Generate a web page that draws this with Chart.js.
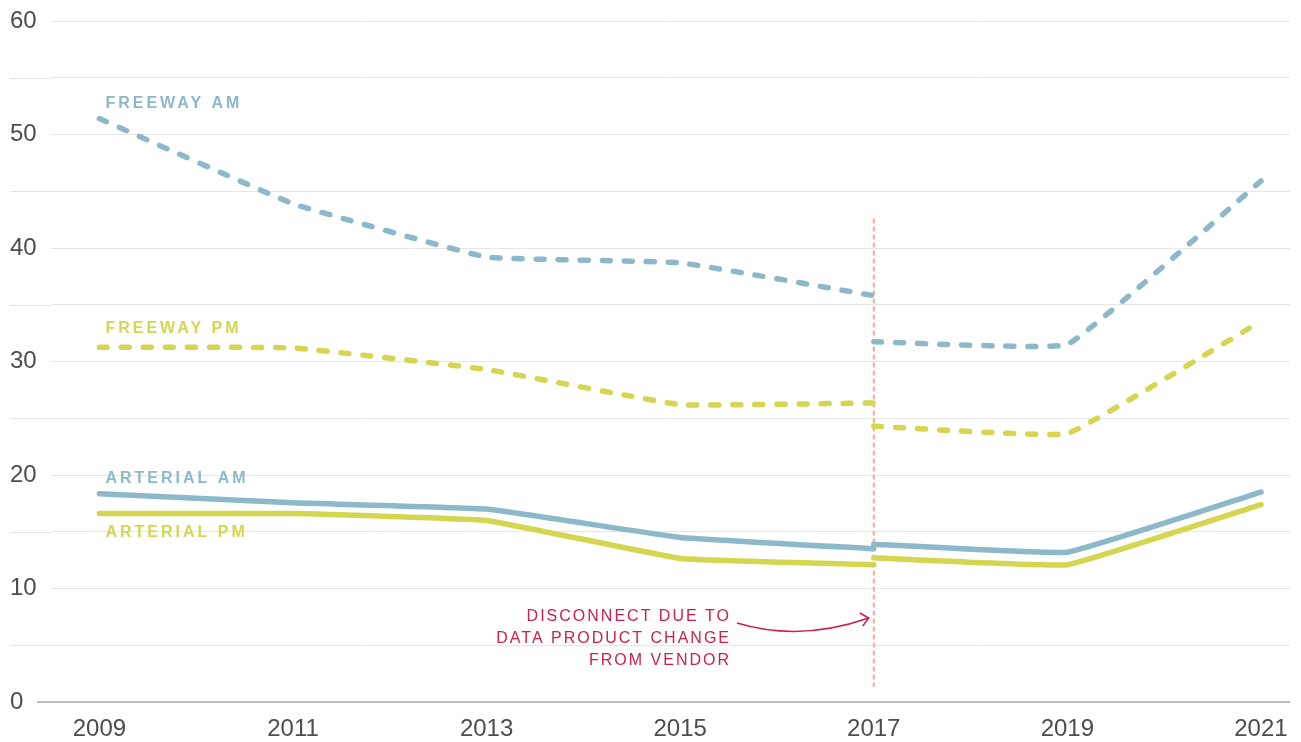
<!DOCTYPE html>
<html lang="en">
<head>
    <meta charset="UTF-8">
    <title>Freeway / arterial</title>
    <script src="https://cdn.jsdelivr.net/npm/chart.js"></script>
    <style>
        html, body { margin: 0; padding: 0; background: #fff; }
        #wrap { width: 1301px; height: 742px; position: relative; }
    </style>
</head>
<body>
    <div id="wrap"><canvas id="grafico"></canvas></div>

<script>
    // dados
    const anos = [2009, 2011, 2013, 2015, 2017];
    const anosDepois = [2017, 2019, 2021];
    const ticksAnos = [2009, 2011, 2013, 2015, 2017, 2019, 2021];

    const freewayAm = [51.4, 43.9, 39.2, 38.7, 35.8];
    const freewayAmDepois = [31.75, 31.5, 45.9];
    const freewayPm = [31.25, 31.2, 29.3, 26.2, 26.35];
    const freewayPmDepois = [24.3, 23.65, 33.55];
    const arterialAm = [18.35, 17.55, 17.0, 14.5, 13.5];
    const arterialAmDepois = [13.9, 13.2, 18.5];
    const arterialPm = [16.6, 16.6, 16.0, 12.65, 12.1];
    const arterialPmDepois = [12.7, 12.1, 17.4];

    const azul = '#8cb8ca';
    const amarelo = '#d5d64f';
    const vermelho = '#cc1f4f';

    function pontos(xs, ys) {
        return xs.map((x, i) => ({ x: x, y: ys[i] }));
    }

    function serie(xs, ys, cor, tracejado) {
        return {
            data: pontos(xs, ys),
            borderColor: cor,
            borderWidth: 5.5,
            borderDash: tracejado ? [8, 14] : [],
            borderCapStyle: 'round',
            borderJoinStyle: 'round',
            tension: 0.08,
            pointRadius: 0,
            fill: false
        };
    }

    // textos e linhas extras
    const anotacoes = {
        id: 'anotacoes',
        beforeDatasetsDraw(chart) {
            const ctx = chart.ctx;
            const x = chart.scales.x;
            const y = chart.scales.y;
            const area = chart.chartArea;
            ctx.save();
            // linhas menores vão até a borda
            ctx.strokeStyle = '#e6e6e6';
            ctx.lineWidth = 1;
            for (let v = 5; v < 60; v += 10) {
                const py = Math.round(y.getPixelForValue(v)) + 0.5;
                ctx.beginPath();
                ctx.moveTo(10, py);
                ctx.lineTo(area.left, py);
                ctx.stroke();
            }
            // linha do zero
            ctx.strokeStyle = '#bdbdbd';
            ctx.lineWidth = 2;
            const p0 = y.getPixelForValue(0);
            ctx.beginPath();
            ctx.moveTo(37, p0);
            ctx.lineTo(area.right, p0);
            ctx.stroke();
            // linha vertical da quebra
            const px = x.getPixelForValue(2017);
            ctx.strokeStyle = '#f7a88f';
            ctx.lineWidth = 2;
            ctx.setLineDash([5, 3]);
            ctx.beginPath();
            ctx.moveTo(px, y.getPixelForValue(42.6));
            ctx.lineTo(px, y.getPixelForValue(1.35));
            ctx.stroke();
            ctx.restore();
        },
        afterDatasetsDraw(chart) {
            const ctx = chart.ctx;
            const x = chart.scales.x;
            const y = chart.scales.y;
            ctx.save();
            ctx.letterSpacing = '3px';
            ctx.font = 'bold 16px "Liberation Sans", Arial, sans-serif';
            ctx.textAlign = 'left';
            ctx.textBaseline = 'alphabetic';
            const lx = x.getPixelForValue(2009) + 6;
            ctx.fillStyle = azul;
            ctx.fillText('FREEWAY AM', lx, y.getPixelForValue(52.3));
            ctx.fillText('ARTERIAL AM', lx, y.getPixelForValue(19.3));
            ctx.fillStyle = amarelo;
            ctx.fillText('FREEWAY PM', lx, y.getPixelForValue(32.5));
            ctx.fillText('ARTERIAL PM', lx, y.getPixelForValue(14.5));

            // nota sobre a quebra
            ctx.letterSpacing = '2px';
            ctx.font = '16px "Liberation Sans", Arial, sans-serif';
            ctx.fillStyle = vermelho;
            ctx.textAlign = 'right';
            ctx.fillText('DISCONNECT DUE TO', 731, 621);
            ctx.fillText('DATA PRODUCT CHANGE', 731, 643);
            ctx.fillText('FROM VENDOR', 731, 665);

            // seta
            const tipX = x.getPixelForValue(2017) - 5;
            const tipY = 618;
            ctx.strokeStyle = vermelho;
            ctx.lineWidth = 1.5;
            ctx.beginPath();
            ctx.moveTo(737, 623);
            ctx.quadraticCurveTo(800, 642, tipX, tipY);
            ctx.stroke();
            ctx.beginPath();
            ctx.moveTo(tipX - 9, tipY - 5);
            ctx.lineTo(tipX, tipY);
            ctx.lineTo(tipX - 6, tipY + 8);
            ctx.stroke();
            ctx.restore();
        }
    };

    const config = {
        type: 'line',
        data: {
            datasets: [
                serie(anos, freewayAm, azul, true),
                serie(anosDepois, freewayAmDepois, azul, true),
                serie(anos, freewayPm, amarelo, true),
                serie(anosDepois, freewayPmDepois, amarelo, true),
                serie(anos, arterialAm, azul, false),
                serie(anosDepois, arterialAmDepois, azul, false),
                serie(anos, arterialPm, amarelo, false),
                serie(anosDepois, arterialPmDepois, amarelo, false)
            ]
        },
        options: {
            responsive: true,
            maintainAspectRatio: false,
            animation: false,
            layout: { padding: { left: 10, right: 11, top: 21, bottom: 0 } },
            plugins: {
                legend: { display: false },
                tooltip: { enabled: false }
            },
            scales: {
                x: {
                    type: 'linear',
                    min: 2008.5,
                    max: 2021.3,
                    afterBuildTicks: (scale) => {
                        scale.ticks = ticksAnos.map(v => ({ value: v }));
                    },
                    afterFit: (scale) => { scale.height = 40; },
                    grid: { display: false },
                    border: { display: false },
                    ticks: {
                        color: '#4d4d4d',
                        font: { family: '"Liberation Sans", Arial, sans-serif', size: 24 },
                        padding: 5,
                        maxRotation: 0,
                        autoSkip: false,
                        callback: (v) => String(v)
                    }
                },
                y: {
                    min: 0,
                    max: 60,
                    afterFit: (scale) => { scale.width = 41; },
                    grid: {
                        drawTicks: false,
                        color: (c) => c.tick && c.tick.value === 0 ? 'rgba(0,0,0,0)' : '#e6e6e6',
                        lineWidth: 1
                    },
                    border: { display: false },
                    ticks: {
                        stepSize: 5,
                        crossAlign: 'far',
                        color: '#4d4d4d',
                        font: { family: '"Liberation Sans", Arial, sans-serif', size: 24 },
                        callback: (v) => v % 10 === 0 ? String(v) : ''
                    }
                }
            }
        },
        plugins: [anotacoes]
    };

    new Chart(document.getElementById('grafico'), config);
</script>
</body>
</html>
